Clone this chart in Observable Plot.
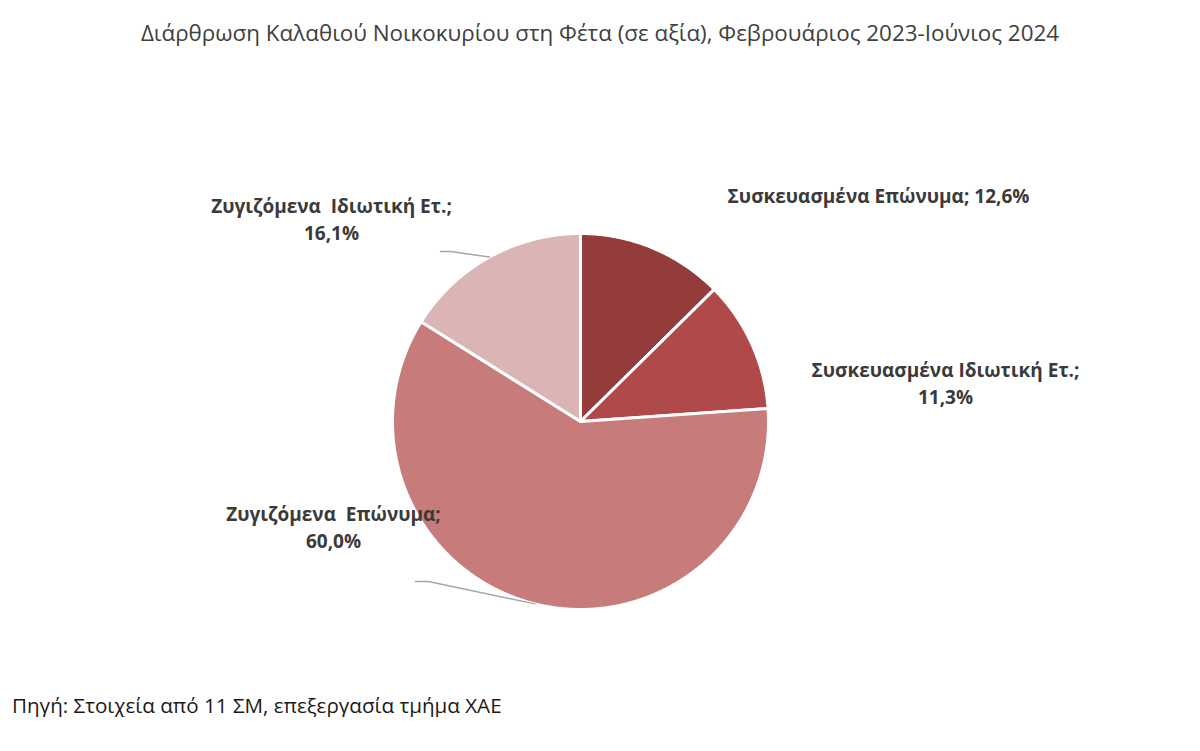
<!DOCTYPE html>
<html>
<head>
<meta charset="utf-8">
<script src="https://cdn.jsdelivr.net/npm/d3@7"></script>
<script src="https://cdn.jsdelivr.net/npm/@observablehq/plot@0.6"></script>
<style>
  body { margin: 0; background: #fff; font-family: "Open Sans", sans-serif; }
  #title { height: 70px; box-sizing: border-box; padding-top: 21px; line-height: 24px;
           text-align: center; font-size: 22.4px; color: #404040; }
  #caption { padding: 13px 0 0 12px; line-height: 24px; font-size: 20.6px; color: #1a1a1a; }
</style>
</head>
<body>
<div id="title">Διάρθρωση Καλαθιού Νοικοκυρίου στη Φέτα (σε αξία), Φεβρουάριος 2023-Ιούνιος 2024</div>
<div id="chart"></div>
<div id="caption">Πηγή: Στοιχεία από 11 ΣΜ, επεξεργασία τμήμα ΧΑΕ</div>
<script>
// slices, clockwise from 12 o'clock
const categories = ["Συσκευασμένα Επώνυμα", "Συσκευασμένα Ιδιωτική Ετ.", "Ζυγιζόμενα  Επώνυμα", "Ζυγιζόμενα  Ιδιωτική Ετ."];
const shares = [12.6, 11.3, 60.0, 16.1];
const colors = ["#943b3b", "#b04a4a", "#c77c7b", "#dbb5b5"];

const W = 1200, H = 610;
const cx = 580, cy = 351, r = 188;

const rows = categories.map((name, i) => ({name, share: shares[i], color: colors[i]}));
const arcs = d3.pie().sort(null).value(d => d.share)(rows);
const pt = (a, rad) => ({x: cx + rad * Math.sin(a), y: cy - rad * Math.cos(a)});

// polygon for each slice
const slices = arcs.map(a => {
  const n = Math.ceil((a.endAngle - a.startAngle) / 0.01);
  const pts = [pt(0, 0)];
  for (let i = 0; i <= n; i++) pts.push(pt(a.startAngle + (a.endAngle - a.startAngle) * i / n, r));
  pts.push(pt(0, 0));
  return {pts, color: a.data.color};
});

// label placement (layout only)
const fmt = v => v.toFixed(1).replace(".", ",") + "%";
const labelAt = [
  {x: 878, y: 124, br: " "},
  {x: 945, y: 311, br: "\n"},
  {x: 333, y: 455, br: "\n"},
  {x: 331, y: 147, br: "\n"}
];
const labels = arcs.map((a, i) => ({
  x: labelAt[i].x, y: labelAt[i].y,
  text: a.data.name + ";" + labelAt[i].br + fmt(a.data.share)
}));

// leader lines for the two left labels
const tails = {2: [{x: 415, y: 511}, {x: 428, y: 511}], 3: [{x: 440, y: 181}, {x: 450, y: 181}]};
const leaders = Object.entries(tails).map(([i, t]) => {
  const a = arcs[i];
  return [...t, pt((a.startAngle + a.endAngle) / 2, r)];
});

const chart = Plot.plot({
  width: W,
  height: H,
  margin: 0,
  x: {domain: [0, W], range: [0, W], axis: null},
  y: {domain: [0, H], range: [0, H], axis: null},
  style: {fontFamily: "'Open Sans', sans-serif", background: "white"},
  marks: [
    ...slices.map(s => Plot.line(s.pts, {
      x: "x", y: "y", fill: s.color, stroke: "white", strokeWidth: 3, strokeLinejoin: "round"
    })),
    ...leaders.map(l => Plot.line(l, {x: "x", y: "y", stroke: "#a6a6a6", strokeWidth: 1.5})),
    Plot.text(labels, {
      x: "x", y: "y", text: "text", fontSize: 19, fontWeight: "bold",
      fill: "#3a3a3a", lineHeight: 1.42, textAnchor: "middle"
    })
  ]
});
document.getElementById("chart").append(chart);
</script>
</body>
</html>
